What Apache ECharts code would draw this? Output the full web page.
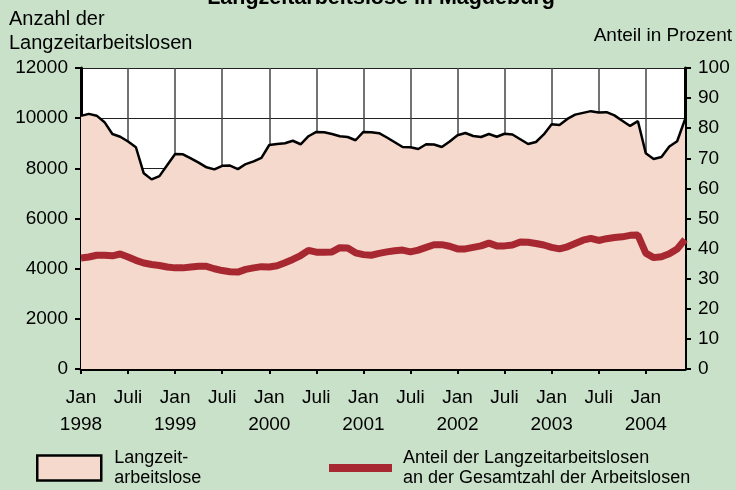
<!DOCTYPE html>
<html>
<head>
<meta charset="utf-8">
<script src="https://cdn.jsdelivr.net/npm/echarts@6/dist/echarts.min.js"></script>
<style>
  html, body { margin: 0; padding: 0; background: #c9e1c9; }
  #chart { width: 736px; height: 490px; }
</style>
</head>
<body>
<div id="chart"></div>
<script>
// Monate Jan 1998 bis Jun 2004
const years = [1998, 1999, 2000, 2001, 2002, 2003, 2004]
const months = []
years.forEach(y => {
  for (let m = 1; m <= 12; m++) {
    if (y === 2004 && m > 6) break
    months.push(y + '-' + (m < 10 ? '0' + m : m))
  }
})

// Anzahl der Langzeitarbeitslosen (linke Achse)
const langzeit = [
  10090, 10170, 10100, 9840, 9370, 9260, 9070, 8840, 7800, 7560, 7690, 8130,
  8570, 8560, 8400, 8230, 8040, 7960, 8100, 8110, 7970, 8170, 8280, 8420,
  8930, 8970, 9000, 9100, 8960, 9280, 9450, 9440, 9370, 9280, 9250, 9120,
  9450, 9440, 9400, 9230, 9040, 8850, 8840, 8770, 8960, 8950, 8850, 9070,
  9320, 9410, 9290, 9250, 9370, 9260, 9380, 9350, 9160, 8970, 9050, 9350,
  9760, 9730, 9970, 10140, 10210, 10280, 10230, 10240, 10110, 9900, 9690, 9880,
  8600, 8370, 8450, 8870, 9080, 9950
]

// Anteil an allen Arbeitslosen in Prozent (rechte Achse)
const anteil = [
  36.9, 37.2, 37.8, 37.8, 37.6, 38.2, 37.2, 36.1, 35.2, 34.7, 34.4, 33.9,
  33.6, 33.6, 33.9, 34.1, 34.1, 33.3, 32.7, 32.3, 32.2, 33.1, 33.6, 34.0,
  33.9, 34.3, 35.3, 36.4, 37.7, 39.4, 38.8, 38.8, 38.9, 40.3, 40.2, 38.6,
  38.0, 37.8, 38.4, 38.9, 39.3, 39.5, 38.9, 39.5, 40.4, 41.3, 41.3, 40.8,
  39.9, 39.9, 40.4, 40.9, 41.8, 40.9, 40.9, 41.2, 42.2, 42.1, 41.7, 41.2,
  40.4, 39.9, 40.6, 41.7, 42.8, 43.4, 42.7, 43.3, 43.7, 43.9, 44.4, 44.5,
  38.5, 37.0, 37.3, 38.3, 39.9, 43.0
]

const font = 'Liberation Sans, Arial, sans-serif'
const pink = '#f5d9cd'
const red = '#a82832'

const chart = echarts.init(document.getElementById('chart'))
const option = {
  backgroundColor: '#c9e1c9',
  animation: false,
  textStyle: { fontFamily: font },
  grid: {
    left: 81, right: 51, top: 68, bottom: 121,
    show: true, backgroundColor: '#fff', borderWidth: 0
  },
  graphic: [
    {
      type: 'text', x: 381, y: 9,
      style: { text: 'Langzeitarbeitslose in Magdeburg', font: 'bold 21.5px ' + font, fill: '#000', textAlign: 'center', textVerticalAlign: 'bottom' }
    },
    { type: 'text', left: 9, top: 7, style: { text: 'Anzahl der\nLangzeitarbeitslosen', font: '20px ' + font, fill: '#000', lineHeight: 24 } },
    { type: 'text', right: 4, top: 26, style: { text: 'Anteil in Prozent', font: '19px ' + font, fill: '#000' } }
  ],
  legend: [
    {
      left: 36, top: 446, padding: 0, icon: 'rect', itemWidth: 64, itemHeight: 25,
      data: ['Langzeit-\narbeitslose'],
      itemStyle: { color: pink, borderColor: '#000', borderWidth: 2.5 },
      textStyle: { fontSize: 18, lineHeight: 20, color: '#000', fontFamily: font, padding: [4, 0, 0, 8] }
    },
    {
      left: 329, top: 446, padding: 0, icon: 'rect', itemWidth: 63, itemHeight: 8,
      data: ['Anteil der Langzeitarbeitslosen\nan der Gesamtzahl der Arbeitslosen'],
      itemStyle: { color: red },
      textStyle: { fontSize: 18, lineHeight: 20, color: '#000', fontFamily: font, padding: [4, 0, 0, 6] }
    }
  ],
  xAxis: {
    type: 'category',
    data: months,
    boundaryGap: false,
    axisLine: { lineStyle: { color: '#000', width: 3 } },
    axisTick: { interval: 5, length: 5, lineStyle: { color: '#000', width: 2 } },
    axisLabel: {
      interval: 5,
      margin: 15,
      fontSize: 19,
      lineHeight: 27,
      color: '#000',
      formatter: v => (v.slice(5) === '01' ? 'Jan\n' + v.slice(0, 4) : 'Juli\n ')
    },
    splitLine: { show: true, interval: 5, lineStyle: { color: '#444', width: 1.5 } }
  },
  yAxis: [
    {
      type: 'value', min: 0, max: 12000, interval: 2000,
      axisLine: { show: true, lineStyle: { color: '#000', width: 3 } },
      axisTick: { show: true, length: 6, lineStyle: { color: '#000', width: 2 } },
      axisLabel: { fontSize: 19, color: '#000', margin: 13, formatter: v => String(v) },
      splitLine: { show: true, lineStyle: { color: '#222', width: 1 } }
    },
    {
      type: 'value', min: 0, max: 100, interval: 10,
      axisLine: { show: true, lineStyle: { color: '#000', width: 3 } },
      axisTick: { show: true, length: 6, lineStyle: { color: '#000', width: 2 } },
      axisLabel: { fontSize: 19, color: '#000', margin: 13 },
      splitLine: { show: false }
    }
  ],
  series: [
    {
      name: 'Langzeit-\narbeitslose',
      type: 'line',
      data: langzeit,
      symbol: 'none',
      itemStyle: { color: pink },
      lineStyle: { color: '#000', width: 2.5 },
      areaStyle: { color: pink, opacity: 1 }
    },
    {
      name: 'Anteil der Langzeitarbeitslosen\nan der Gesamtzahl der Arbeitslosen',
      type: 'line',
      yAxisIndex: 1,
      data: anteil,
      symbol: 'none',
      itemStyle: { color: red },
      lineStyle: { color: red, width: 7 }
    }
  ]
}
chart.setOption(option)
</script>
</body>
</html>
